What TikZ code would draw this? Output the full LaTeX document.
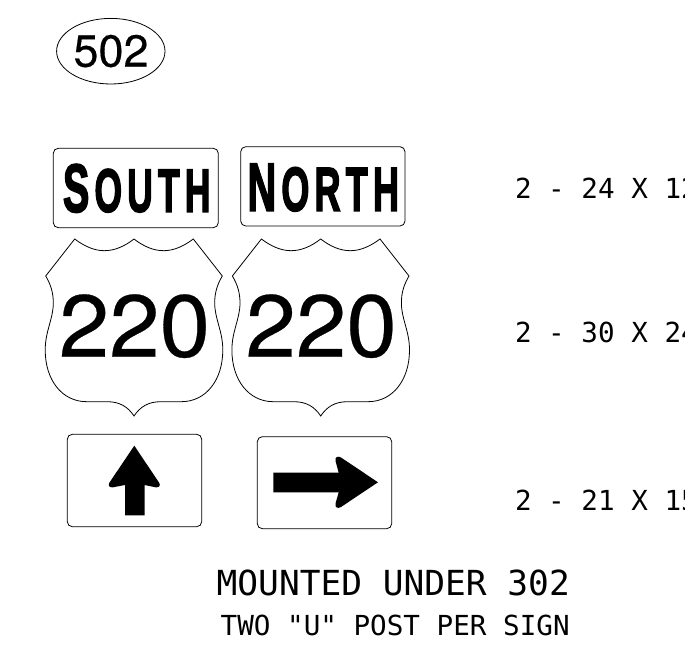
\documentclass[tikz,border=0pt]{standalone}
\usepackage{fontspec}
\usetikzlibrary{shapes.geometric}
\setmainfont{TeX Gyre Heros}
\newfontfamily\signmono{DejaVu Sans Mono}
\newfontfamily\signbold[FakeBold=3]{Liberation Sans Bold}
\newfontfamily\routefont[FakeBold=0.3]{TeX Gyre Heros}
\newcommand{\fsz}[1]{\fontsize{#1}{#1}\selectfont}
\newcommand{\shieldoutline}{(-59.3,0) .. controls (-50,7) and (-40,11.7) .. (-29.7,11.7) .. controls (-19,11.7) and (-9,7) .. (0,0)
  .. controls (9,7) and (19,11.7) .. (29.7,11.7) .. controls (40,11.7) and (50,7) .. (59.3,0)
  -- (88.3,37) .. controls (83,46) and (80.7,54) .. (80.7,64) .. controls (80.7,80) and (88.8,92) .. (88.8,111)
  .. controls (88.8,141) and (72,162.7) .. (47.3,162.7) -- (26.7,162.7) .. controls (14,162.7) and (6,168) .. (0,177)
  .. controls (-6,168) and (-14,162.7) .. (-26.7,162.7) -- (-47.3,162.7) .. controls (-72,162.7) and (-88.8,141) .. (-88.8,111)
  .. controls (-88.8,92) and (-80.7,80) .. (-80.7,64) .. controls (-80.7,54) and (-83,46) .. (-88.3,37) -- cycle}
\tikzset{
  x=1pt,y=-1pt,
  outline/.style={draw=black,line width=0.8pt,fill=white},
  panel/.style={outline,rounded corners=5pt},
  plain/.style={inner sep=0pt,outer sep=0pt,anchor=base},
  route/.style={plain,font=\routefont\fsz{88}},
  signword/.style={plain,font=\signbold},
  bigmono/.style={plain,anchor=base west,font=\signmono\fsz{34.5}},
  smallmono/.style={plain,anchor=base west,font=\signmono\fsz{27.6}}
}
\begin{document}
\begin{tikzpicture}
\clip (0,0) rectangle (685,655);
\fill[white] (0,0) rectangle (685,655);
% oval
\node[draw=black,line width=0.8pt,ellipse,minimum width=108.4pt,minimum height=65.6pt,inner sep=0pt] (oval) at (110.8,51.2) {};
\node[plain,font=\routefont\fsz{45}] (num) at (111,66.7) {502};
% word panels
\draw[panel] (53.3,148.3) rectangle (218.3,227.7);
\draw[panel] (240.7,146.7) rectangle (405,226);
\node[signword] (south) at (136.7,211.7) {\scalebox{0.58}[1]{\fsz{68}S\kern9pt\fsz{61}O\kern9pt U\kern9pt T\kern9pt H}};
\node[signword] (north) at (323.3,210.7) {\scalebox{0.58}[1]{\fsz{68}N\kern9pt\fsz{62}O\kern9pt R\kern9pt T\kern9pt H}};
% shields
\draw[outline,shift={(134,239)}] \shieldoutline;
\draw[outline,shift={(320.7,239)}] \shieldoutline;
\node[route] (r1) at (134.5,356.7) {\scalebox{1.03}[1]{220}};
\node[route] (r2) at (321.2,356.7) {\scalebox{1.03}[1]{220}};
% arrow panels
\draw[panel] (67.3,434.3) rectangle (201.7,526.7);
\draw[panel] (257.3,436.7) rectangle (391.7,528.7);
\fill[black] (125,485) -- (113,487.3) .. controls (109,488) and (107.8,485) .. (109.5,482.5) -- (134.3,445.7) -- (159,482.5) .. controls (160.8,485) and (159.6,488) .. (155.6,487.3) -- (144.5,485) -- (144.5,515.3) -- (125,515.3) -- cycle;
\fill[black] (273.3,472.7) -- (338.7,472.7) -- (335.5,461) .. controls (334.5,457) and (338,455.7) .. (341,457.5) -- (378,482.3) -- (341,507) .. controls (338,508.9) and (334.5,507.6) .. (335.5,503.6) -- (338.7,492.3) -- (273.3,492.3) -- cycle;
% size notes
\node[smallmono] (n1) at (515,199) {2 - 24 X 12};
\node[smallmono] (n2) at (515,342) {2 - 30 X 24};
\node[smallmono] (n3) at (515,510) {2 - 21 X 15};
% mounting notes
\node[bigmono] (m1) at (216.7,595.7) {MOUNTED UNDER 302};
\node[smallmono] (m2) at (220.7,635) {TWO "U" POST PER SIGN};
\end{tikzpicture}
\end{document}
